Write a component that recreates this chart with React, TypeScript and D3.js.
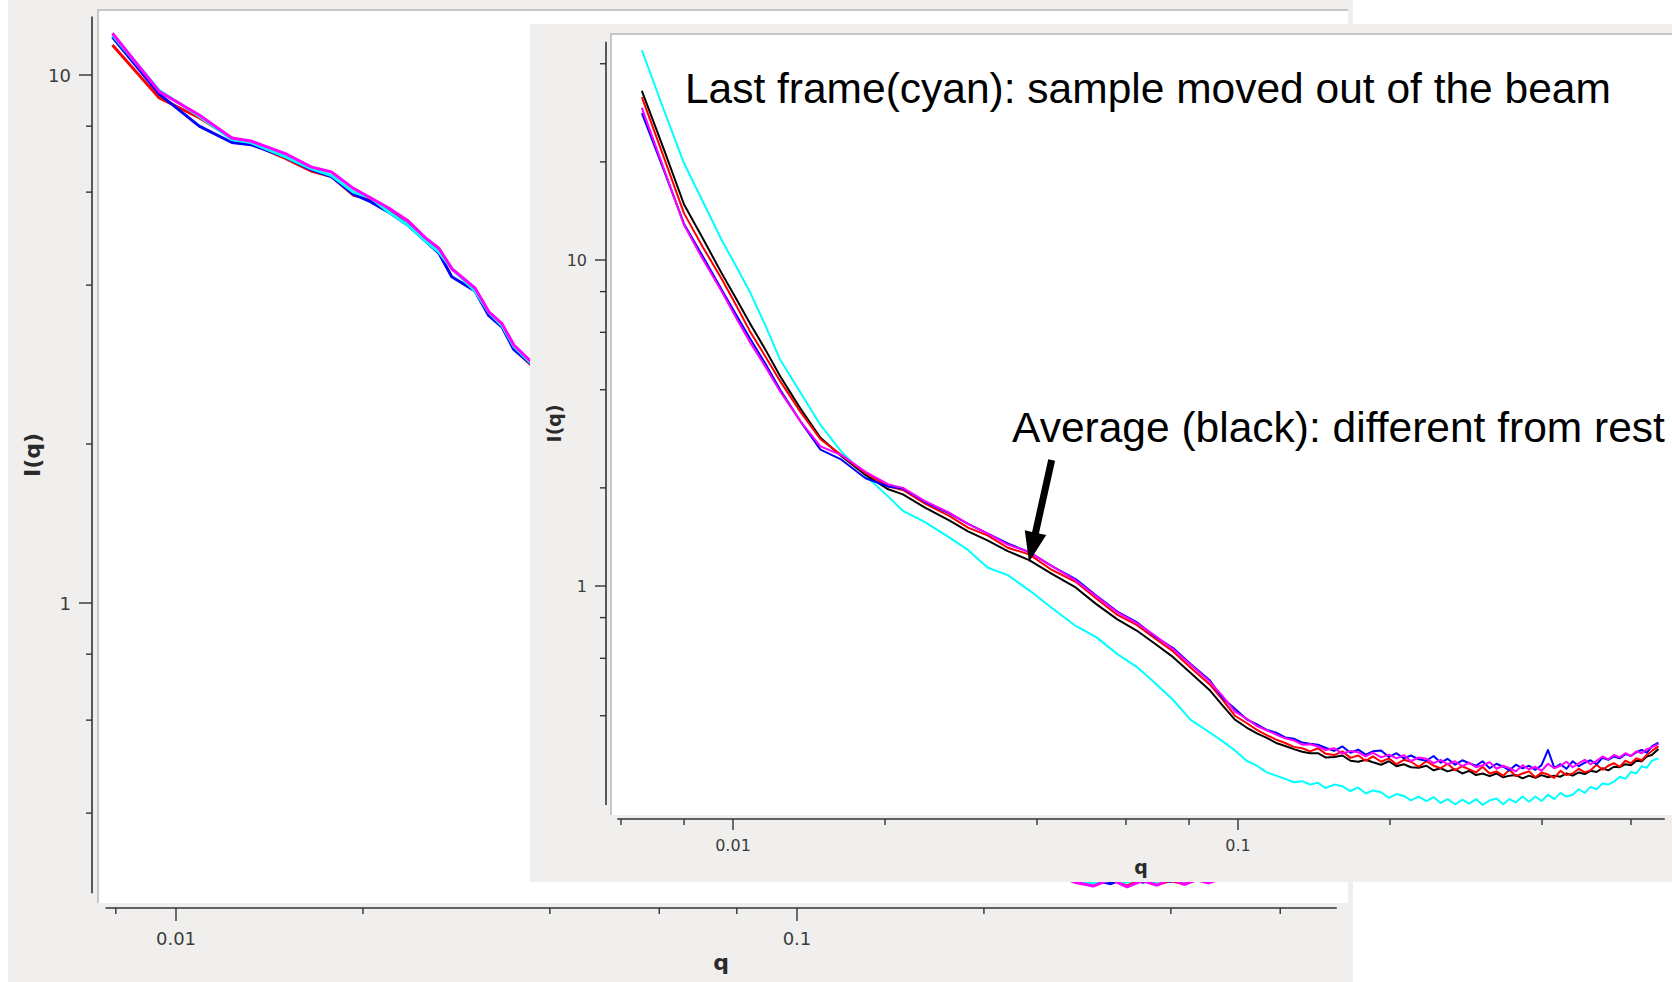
import React from "react";
import * as d3 from "d3";

// ---------------- DATA ----------------
// Front (zoomed) panel: shared q grid
const Q_FRONT = [
  0.0066, 0.0073, 0.0080, 0.0087, 0.0095, 0.0102, 0.0108, 0.0116, 0.0124, 0.0136,
  0.0149, 0.0164, 0.0183, 0.0203, 0.0217, 0.0240, 0.0268, 0.0292, 0.0319, 0.0350,
  0.0386, 0.0428, 0.0477, 0.0524, 0.0577, 0.0630, 0.0685, 0.0744, 0.0807, 0.0878,
  0.0930, 0.0986, 0.104, 0.109, 0.114, 0.119, 0.124, 0.129, 0.134, 0.139,
  0.144, 0.149, 0.155, 0.161, 0.167, 0.173, 0.179, 0.185, 0.192, 0.199,
  0.206, 0.213, 0.220, 0.228, 0.236, 0.244, 0.252, 0.260, 0.269, 0.278,
  0.287, 0.296, 0.305, 0.315, 0.325, 0.335, 0.345, 0.355, 0.366, 0.377,
  0.388, 0.399, 0.411, 0.423, 0.435, 0.447, 0.460, 0.473, 0.486, 0.499,
  0.513, 0.527, 0.541, 0.555, 0.570, 0.585, 0.600, 0.615, 0.630, 0.645,
  0.660, 0.680,
];

const FRONT_BLACK = [
  33.0, 21.8, 14.8, 11.7, 9.1, 7.5, 6.4, 5.3, 4.4, 3.5,
  2.85, 2.50, 2.19, 1.98, 1.91, 1.74, 1.59, 1.47, 1.38, 1.28,
  1.20, 1.09, 0.99, 0.88, 0.79, 0.73, 0.665, 0.605, 0.54, 0.48,
  0.432, 0.389, 0.368, 0.353, 0.342, 0.330, 0.323, 0.316, 0.310, 0.307,
  0.307, 0.298, 0.299, 0.302, 0.291, 0.289, 0.293, 0.288, 0.283, 0.290,
  0.280, 0.284, 0.278, 0.277, 0.281, 0.272, 0.276, 0.270, 0.274, 0.266,
  0.271, 0.263, 0.266, 0.261, 0.266, 0.259, 0.262, 0.263, 0.257, 0.262,
  0.258, 0.263, 0.259, 0.262, 0.260, 0.266, 0.262, 0.268, 0.265, 0.271,
  0.269, 0.276, 0.272, 0.279, 0.278, 0.284, 0.282, 0.291, 0.290, 0.300,
  0.303, 0.316,
];

const FRONT_RED = [
  31.6, 20.6, 13.9, 11.0, 8.75, 7.15, 6.05, 5.05, 4.25, 3.42,
  2.82, 2.52, 2.22, 2.02, 1.97, 1.79, 1.64, 1.51, 1.43, 1.31,
  1.25, 1.12, 1.03, 0.915, 0.815, 0.76, 0.69, 0.63, 0.56, 0.50,
  0.45, 0.40, 0.38, 0.362, 0.349, 0.338, 0.330, 0.321, 0.318, 0.311,
  0.318, 0.306, 0.303, 0.311, 0.297, 0.302, 0.291, 0.300, 0.289, 0.296,
  0.284, 0.293, 0.289, 0.279, 0.290, 0.281, 0.276, 0.285, 0.272, 0.280,
  0.274, 0.268, 0.279, 0.266, 0.270, 0.262, 0.273, 0.261, 0.266, 0.270,
  0.259, 0.268, 0.264, 0.258, 0.271, 0.263, 0.266, 0.275, 0.268, 0.272,
  0.283, 0.273, 0.281, 0.286, 0.279, 0.291, 0.286, 0.296, 0.292, 0.303,
  0.312, 0.322,
];

const FRONT_BLUE = [
  28.2, 18.8, 12.9, 10.3, 8.1, 6.7, 5.75, 4.8, 4.0, 3.2,
  2.62, 2.44, 2.14, 2.02, 1.99, 1.81, 1.67, 1.55, 1.45, 1.35,
  1.27, 1.15, 1.05, 0.935, 0.835, 0.775, 0.70, 0.645, 0.575, 0.515,
  0.455, 0.42, 0.39, 0.376, 0.362, 0.355, 0.343, 0.340, 0.331, 0.328,
  0.326, 0.319, 0.312, 0.322, 0.308, 0.315, 0.304, 0.311, 0.313, 0.299,
  0.307, 0.296, 0.302, 0.294, 0.291, 0.301, 0.287, 0.295, 0.283, 0.292,
  0.286, 0.281, 0.290, 0.276, 0.285, 0.279, 0.272, 0.283, 0.276, 0.281,
  0.273, 0.282, 0.314, 0.277, 0.284, 0.275, 0.290, 0.280, 0.287, 0.292,
  0.284, 0.297, 0.293, 0.300, 0.296, 0.305, 0.301, 0.309, 0.314, 0.308,
  0.322, 0.331,
];

const FRONT_MAGENTA = [
  29.3, 19.0, 12.8, 10.1, 8.0, 6.55, 5.6, 4.7, 3.95, 3.2,
  2.68, 2.52, 2.24, 2.05, 2.0, 1.82, 1.68, 1.55, 1.45, 1.34,
  1.27, 1.15, 1.04, 0.93, 0.83, 0.77, 0.705, 0.64, 0.572, 0.51,
  0.462, 0.412, 0.392, 0.372, 0.361, 0.350, 0.341, 0.336, 0.326, 0.327,
  0.322, 0.314, 0.318, 0.306, 0.312, 0.309, 0.300, 0.308, 0.298, 0.304,
  0.296, 0.303, 0.290, 0.298, 0.295, 0.286, 0.293, 0.284, 0.290, 0.280,
  0.287, 0.278, 0.282, 0.288, 0.275, 0.281, 0.276, 0.270, 0.282, 0.274,
  0.279, 0.271, 0.285, 0.276, 0.281, 0.289, 0.278, 0.286, 0.293, 0.284,
  0.291, 0.300, 0.294, 0.303, 0.298, 0.307, 0.301, 0.311, 0.307, 0.316,
  0.320, 0.328,
];

const FRONT_CYAN = [
  44.0, 28.8, 19.8, 15.2, 11.5, 9.42, 7.98, 6.28, 4.94, 3.92,
  3.12, 2.58, 2.18, 1.88, 1.70, 1.57, 1.41, 1.29, 1.14, 1.08,
  0.97, 0.856, 0.754, 0.697, 0.618, 0.565, 0.504, 0.447, 0.388, 0.356,
  0.335, 0.313, 0.291, 0.281, 0.268, 0.262, 0.256, 0.250, 0.252, 0.246,
  0.249, 0.240, 0.246, 0.243, 0.235, 0.241, 0.231, 0.236, 0.233, 0.224,
  0.230, 0.227, 0.220, 0.226, 0.219, 0.225, 0.216, 0.222, 0.214, 0.221,
  0.215, 0.222, 0.213, 0.220, 0.223, 0.214, 0.222, 0.217, 0.226, 0.218,
  0.226, 0.219, 0.229, 0.222, 0.232, 0.226, 0.229, 0.238, 0.232, 0.242,
  0.238, 0.248, 0.246, 0.251, 0.260, 0.256, 0.269, 0.266, 0.280, 0.277,
  0.291, 0.296,
];

// Back (full) panel
const Q_BACK = [
  0.0079, 0.0094, 0.0109, 0.0123, 0.0132, 0.0150, 0.0165, 0.0178, 0.0193, 0.0206,
  0.0220, 0.0236, 0.0252, 0.0265, 0.0278, 0.0303, 0.0319, 0.0335, 0.0350, 0.0369,
  0.045, 0.060, 0.080, 0.100, 0.130, 0.170, 0.220, 0.260, 0.280, 0.300,
  0.320, 0.340, 0.360, 0.380, 0.400, 0.420, 0.440, 0.460, 0.500, 0.600,
  0.700,
];

const BACK_RED = [
  11.4, 9.05, 8.3, 7.6, 7.42, 6.95, 6.58, 6.42, 5.92, 5.82,
  5.52, 5.3, 4.9, 4.68, 4.3, 3.92, 3.55, 3.35, 3.03, 2.86,
  2.3, 1.6, 1.05, 0.75, 0.52, 0.40, 0.33, 0.305, 0.299, 0.292,
  0.300, 0.291, 0.301, 0.293, 0.298, 0.294, 0.302, 0.297, 0.305, 0.315,
  0.33,
];
const BACK_BLUE = [
  11.8, 9.2, 8.0, 7.45, 7.38, 7.0, 6.62, 6.42, 5.95, 5.75,
  5.5, 5.2, 4.85, 4.6, 4.15, 3.9, 3.5, 3.33, 3.02, 2.87,
  2.3, 1.6, 1.05, 0.75, 0.52, 0.40, 0.33, 0.305, 0.297, 0.299,
  0.294, 0.302, 0.296, 0.300, 0.297, 0.303, 0.298, 0.302, 0.306, 0.315,
  0.33,
];
const BACK_CYAN = [
  11.9, 9.35, 8.35, 7.55, 7.45, 7.0, 6.65, 6.45, 6.0, 5.85,
  5.5, 5.2, 4.85, 4.62, 4.3, 3.9, 3.55, 3.35, 3.06, 2.88,
  2.3, 1.6, 1.05, 0.75, 0.52, 0.40, 0.33, 0.305, 0.298, 0.294,
  0.299, 0.296, 0.302, 0.293, 0.303, 0.297, 0.300, 0.301, 0.306, 0.315,
  0.33,
];
const BACK_MAGENTA = [
  12.0, 9.3, 8.4, 7.6, 7.5, 7.1, 6.7, 6.55, 6.1, 5.85,
  5.6, 5.3, 4.92, 4.7, 4.3, 3.95, 3.56, 3.38, 3.08, 2.9,
  2.3, 1.6, 1.05, 0.75, 0.52, 0.40, 0.33, 0.305, 0.296, 0.291,
  0.300, 0.290, 0.298, 0.292, 0.301, 0.293, 0.299, 0.295, 0.305, 0.315,
  0.33,
];

const Y_TICK_VALUES = [40, 20, 10, 8, 6, 4, 2, 1, 0.8, 0.6, 0.4, 0.2];
const X_TICK_VALUES = [0.006, 0.008, 0.01, 0.02, 0.04, 0.06, 0.08, 0.1, 0.2, 0.4, 0.6];
const MAJOR_VALUES = [0.01, 0.1, 1, 10];

const NOTE_TOP = { text: "Last frame(cyan): sample moved out of the beam", q: 0.00803, I: 30.3 };
const NOTE_AVG = { text: "Average (black): different from rest", q: 0.0357, I: 2.765 };
const ARROW = { q0: 0.04276, I0: 2.435, q1: 0.03856, I1: 1.185 };

// ---------------- COMPONENTS ----------------
type Series = { name: string; color: string; values: number[] };

const BACK_SERIES: Series[] = [
  { name: "red", color: "#ff0000", values: BACK_RED },
  { name: "blue", color: "#0000ff", values: BACK_BLUE },
  { name: "cyan", color: "#00ffff", values: BACK_CYAN },
  { name: "magenta", color: "#ff00ff", values: BACK_MAGENTA },
];

const FRONT_SERIES: Series[] = [
  { name: "cyan", color: "#00ffff", values: FRONT_CYAN },
  { name: "black", color: "#000000", values: FRONT_BLACK },
  { name: "red", color: "#ff0000", values: FRONT_RED },
  { name: "blue", color: "#0000ff", values: FRONT_BLUE },
  { name: "magenta", color: "#ff00ff", values: FRONT_MAGENTA },
];

interface PanelCfg {
  id: string;
  bg: [number, number, number, number];
  plot: [number, number, number, number];
  xRange: [number, number];
  yRange: [number, number];
  xExtent: [number, number];
  yExtent: [number, number];
  xAxisY: number;
  yAxisX: number;
  majorLen: number;
  minorLen: number;
  tickFont: number;
  titleFont: number;
  xLabelOff: number;
  xTitleOff: number;
  yTitleOff: number;
  lineWidth: number;
  q: number[];
  series: Series[];
}

const AXIS_COLOR = "#333333";
const TEXT_COLOR = "#3c3c3c";
const BG = "#f0efed";
const BORDER = "#c6c6c6";
const FONT = "'DejaVu Sans', Verdana, sans-serif";

function makeScales(c: PanelCfg) {
  const x = d3.scaleLog().domain([0.01, 0.1]).range(c.xRange);
  const y = d3.scaleLog().domain([10, 1]).range(c.yRange);
  return { x, y };
}

function Panel({ c, children }: { c: PanelCfg; children?: React.ReactNode }) {
  const { x, y } = makeScales(c);
  const line = d3
    .line<[number, number]>()
    .x((d) => x(d[0]))
    .y((d) => y(d[1]));
  const [px, py, pw, ph] = c.plot;
  const yTop = y(c.yExtent[0]);
  const yBot = y(c.yExtent[1]);
  const xL = x(c.xExtent[0]);
  const xR = x(c.xExtent[1]);
  const yTicks = Y_TICK_VALUES.filter((v) => v <= c.yExtent[0] && v >= c.yExtent[1]);
  const xTicks = X_TICK_VALUES.filter((v) => v >= c.xExtent[0] && v <= c.xExtent[1]);
  return (
    <g>
      <rect x={c.bg[0]} y={c.bg[1]} width={c.bg[2]} height={c.bg[3]} fill={BG} />
      <rect x={px} y={py} width={pw} height={ph} fill="#ffffff" />
      <line x1={px} x2={px + pw} y1={py + 1} y2={py + 1} stroke={BORDER} strokeWidth={2} />
      <line x1={px + 1} x2={px + 1} y1={py} y2={py + ph} stroke={BORDER} strokeWidth={2} />
      <defs>
        <clipPath id={c.id}>
          <rect x={px + 2} y={py + 2} width={pw - 2} height={ph - 2} />
        </clipPath>
      </defs>
      <g clipPath={`url(#${c.id})`}>
        {c.series.map((s) => {
          const n = Math.min(c.q.length, s.values.length);
          const pts: [number, number][] = [];
          for (let i = 0; i < n; i++) pts.push([c.q[i], s.values[i]]);
          return (
            <path
              key={s.name}
              d={line(pts) || ""}
              fill="none"
              stroke={s.color}
              strokeWidth={c.lineWidth}
              strokeLinejoin="round"
            />
          );
        })}
        {children}
      </g>
      {/* y axis */}
      <line x1={c.yAxisX} x2={c.yAxisX} y1={yTop} y2={yBot} stroke={AXIS_COLOR} strokeWidth={1.6} />
      {yTicks.map((v) => {
        const major = MAJOR_VALUES.includes(v);
        const len = major ? c.majorLen : c.minorLen;
        return (
          <g key={"y" + v}>
            <line x1={c.yAxisX - len} x2={c.yAxisX} y1={y(v)} y2={y(v)} stroke={AXIS_COLOR} strokeWidth={1.4} />
            {major && (
              <text
                x={c.yAxisX - c.majorLen - 8}
                y={y(v)}
                textAnchor="end"
                dominantBaseline="central"
                fontFamily={FONT}
                fontSize={c.tickFont}
                fill={TEXT_COLOR}
              >
                {String(v)}
              </text>
            )}
          </g>
        );
      })}
      {/* x axis */}
      <line x1={xL} x2={xR} y1={c.xAxisY} y2={c.xAxisY} stroke={AXIS_COLOR} strokeWidth={1.6} />
      {xTicks.map((v) => {
        const major = MAJOR_VALUES.includes(v);
        const len = major ? c.majorLen : c.minorLen;
        return (
          <g key={"x" + v}>
            <line x1={x(v)} x2={x(v)} y1={c.xAxisY} y2={c.xAxisY + len} stroke={AXIS_COLOR} strokeWidth={1.4} />
            {major && (
              <text
                x={x(v)}
                y={c.xAxisY + c.xLabelOff}
                textAnchor="middle"
                dominantBaseline="central"
                fontFamily={FONT}
                fontSize={c.tickFont}
                fill={TEXT_COLOR}
              >
                {String(v)}
              </text>
            )}
          </g>
        );
      })}
      <text
        x={(xL + xR) / 2}
        y={c.xAxisY + c.xTitleOff}
        textAnchor="middle"
        fontFamily={FONT}
        fontWeight="bold"
        fontSize={c.titleFont}
        fill="#2a2a2a"
      >
        q
      </text>
      <text
        transform={`translate(${c.yAxisX - c.yTitleOff},${(yTop + yBot) / 2}) rotate(-90)`}
        textAnchor="middle"
        fontFamily={FONT}
        fontWeight="bold"
        fontSize={c.titleFont}
        fill="#2a2a2a"
      >
        I(q)
      </text>
    </g>
  );
}

const BACK_CFG: PanelCfg = {
  id: "clip-back",
  bg: [8, 0, 1345, 982],
  plot: [97, 9, 1251, 894],
  xRange: [176, 797],
  yRange: [75, 603],
  xExtent: [0.0077, 0.74],
  yExtent: [12.9, 0.282],
  xAxisY: 908,
  yAxisX: 92,
  majorLen: 13,
  minorLen: 6,
  tickFont: 18,
  titleFont: 22,
  xLabelOff: 30,
  xTitleOff: 62,
  yTitleOff: 52,
  lineWidth: 3,
  q: Q_BACK,
  series: BACK_SERIES,
};

const FRONT_CFG: PanelCfg = {
  id: "clip-front",
  bg: [530, 24, 1142, 858],
  plot: [610, 33, 1062, 782],
  xRange: [733, 1238],
  yRange: [260, 586],
  xExtent: [0.0059, 0.7],
  yExtent: [46.7, 0.213],
  xAxisY: 819,
  yAxisX: 606,
  majorLen: 11,
  minorLen: 6,
  tickFont: 16,
  titleFont: 19,
  xLabelOff: 26,
  xTitleOff: 55,
  yTitleOff: 45,
  lineWidth: 2,
  q: Q_FRONT,
  series: FRONT_SERIES,
};

function Annotations() {
  const { x, y } = makeScales(FRONT_CFG);
  const tx = x(ARROW.q0);
  const ty = y(ARROW.I0);
  const px = x(ARROW.q1);
  const py = y(ARROW.I1);
  const dx = px - tx;
  const dy = py - ty;
  const L = Math.hypot(dx, dy);
  const ux = dx / L;
  const uy = dy / L;
  const nx = -uy;
  const ny = ux;
  const headLen = 30;
  const headHalf = 11;
  const shaftHalf = 3.5;
  const bx = px - ux * headLen;
  const by = py - uy * headLen;
  const poly = [
    [tx + nx * shaftHalf, ty + ny * shaftHalf],
    [bx + nx * shaftHalf, by + ny * shaftHalf],
    [bx + nx * headHalf, by + ny * headHalf],
    [px, py],
    [bx - nx * headHalf, by - ny * headHalf],
    [bx - nx * shaftHalf, by - ny * shaftHalf],
    [tx - nx * shaftHalf, ty - ny * shaftHalf],
  ]
    .map((p) => p.join(","))
    .join(" ");
  const noteFont = "'Liberation Sans', Arial, Helvetica, sans-serif";
  return (
    <g>
      <text x={x(NOTE_TOP.q)} y={y(NOTE_TOP.I)} fontFamily={noteFont} fontSize={42.5} fill="#000">
        {NOTE_TOP.text}
      </text>
      <text x={x(NOTE_AVG.q)} y={y(NOTE_AVG.I)} fontFamily={noteFont} fontSize={42.5} fill="#000">
        {NOTE_AVG.text}
      </text>
      <polygon points={poly} fill="#000" />
    </g>
  );
}

export default function App() {
  return (
    <div style={{ position: "absolute", left: 0, top: 0, width: 1672, height: 982, background: "#fff" }}>
      <svg width={1672} height={982} viewBox="0 0 1672 982" style={{ display: "block" }}>
        <rect x={0} y={0} width={1672} height={982} fill="#ffffff" />
        <Panel c={BACK_CFG} />
        <Panel c={FRONT_CFG} />
        <Annotations />
      </svg>
    </div>
  );
}
